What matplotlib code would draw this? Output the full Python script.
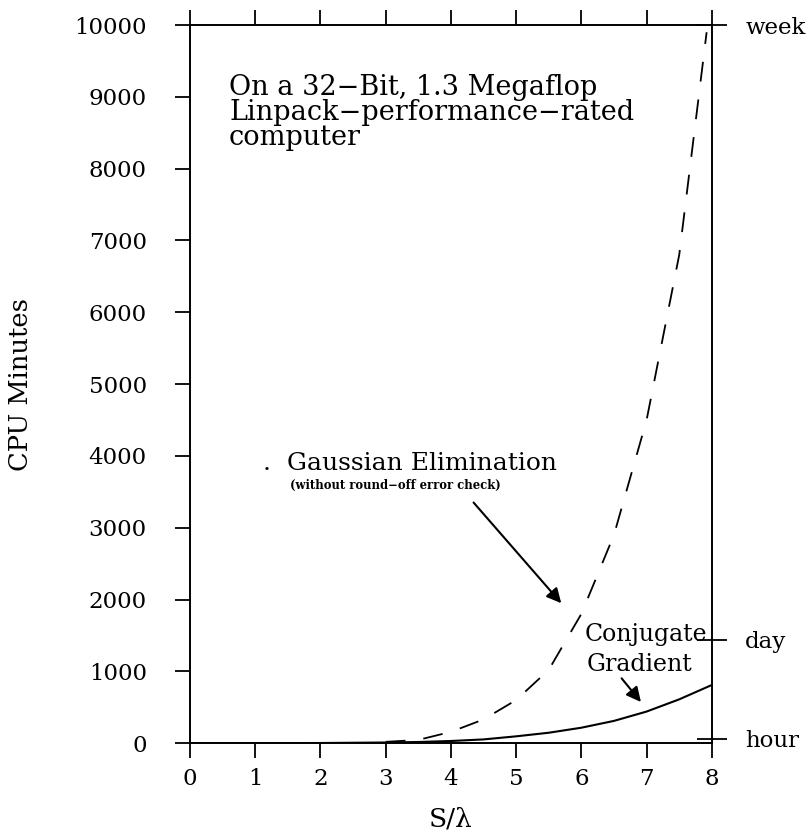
import matplotlib; matplotlib.use("Agg"); import matplotlib.pyplot as plt
import numpy as np

plt.rcParams["font.family"] = "DejaVu Serif"

# ═══════ Data ═══════
x_labels = ["0", "1", "2", "3", "4", "5", "6", "7", "8"]
y_ticks = [0, 1000, 2000, 3000, 4000, 5000, 6000, 7000, 8000, 9000, 10000]

ge_x = [3.0, 3.5, 4.0, 4.5, 5.0, 5.5, 6.0, 6.5, 7.0, 7.5, 7.92]
ge_y = [18, 45, 157, 330, 600, 1020, 1800, 2900, 4500, 6800, 9900]

cg_x = [0.0, 1.0, 2.0, 3.0, 3.5, 4.0, 4.5, 5.0, 5.5, 6.0, 6.5, 7.0, 7.5, 8.0]
cg_y = [0, 0, 2, 9, 16, 30, 52, 95, 145, 215, 310, 440, 610, 810]

time_marks = [60, 1440, 10000]
time_labels = ["hour", "day", "week"]

# ═══════ Figure ═══════
fig = plt.figure(figsize=(8.08, 8.35), dpi=100)
ax = fig.add_axes([0.235, 0.110, 0.646, 0.860])

ax.plot(ge_x, ge_y, color="black", lw=1.3, ls=(0, (11, 10)))
ax.plot(cg_x, cg_y, color="black", lw=1.5)

ax.set_xlim(0, 8)
ax.set_ylim(0, 10000)
ax.set_xticks(range(9))
ax.set_xticklabels(x_labels)
ax.set_yticks(y_ticks)
ax.tick_params(direction="out", length=11, width=1.3, labelsize=16.5,
               top=True, right=True)
ax.tick_params(axis="y", pad=20)
ax.tick_params(axis="x", pad=7)
for s in ax.spines.values():
    s.set_linewidth(1.4)

ax.set_xlabel("S/λ", fontsize=19, labelpad=12)
ax.set_ylabel("CPU Minutes", fontsize=18.5, labelpad=30)

# time reference ticks on the right
ax2 = ax.twinx()
ax2.set_ylim(0, 10000)
ax2.set_yticks(time_marks)
ax2.set_yticklabels(time_labels)
ax2.tick_params(direction="inout", length=22, width=1.3, labelsize=16.5, pad=13)
for s in ax2.spines.values():
    s.set_visible(False)

# ═══════ Annotations ═══════
ax.text(0.6, 9320, "On a 32−Bit, 1.3 Megaflop\nLinpack−performance−rated\ncomputer",
        fontsize=19.5, va="top", ha="left", linespacing=0.9)
ax.text(1.12, 3900, ".  Gaussian Elimination", fontsize=18, va="center", ha="left")
ax.text(1.53, 3590, "(without round−off error check)", fontsize=8.4,
        fontweight="bold", va="center", ha="left")
ax.annotate("", xy=(5.72, 1920), xytext=(4.32, 3380),
            arrowprops=dict(arrowstyle="-|>", color="black", lw=1.5,
                            mutation_scale=22))
ax.text(6.05, 1510, "Conjugate", fontsize=17, va="center", ha="left")
ax.text(6.08, 1100, "Gradient", fontsize=17, va="center", ha="left")
ax.annotate("", xy=(6.94, 543), xytext=(6.59, 933),
            arrowprops=dict(arrowstyle="-|>", color="black", lw=1.5,
                            mutation_scale=22))

plt.savefig("out.png", dpi=100)
